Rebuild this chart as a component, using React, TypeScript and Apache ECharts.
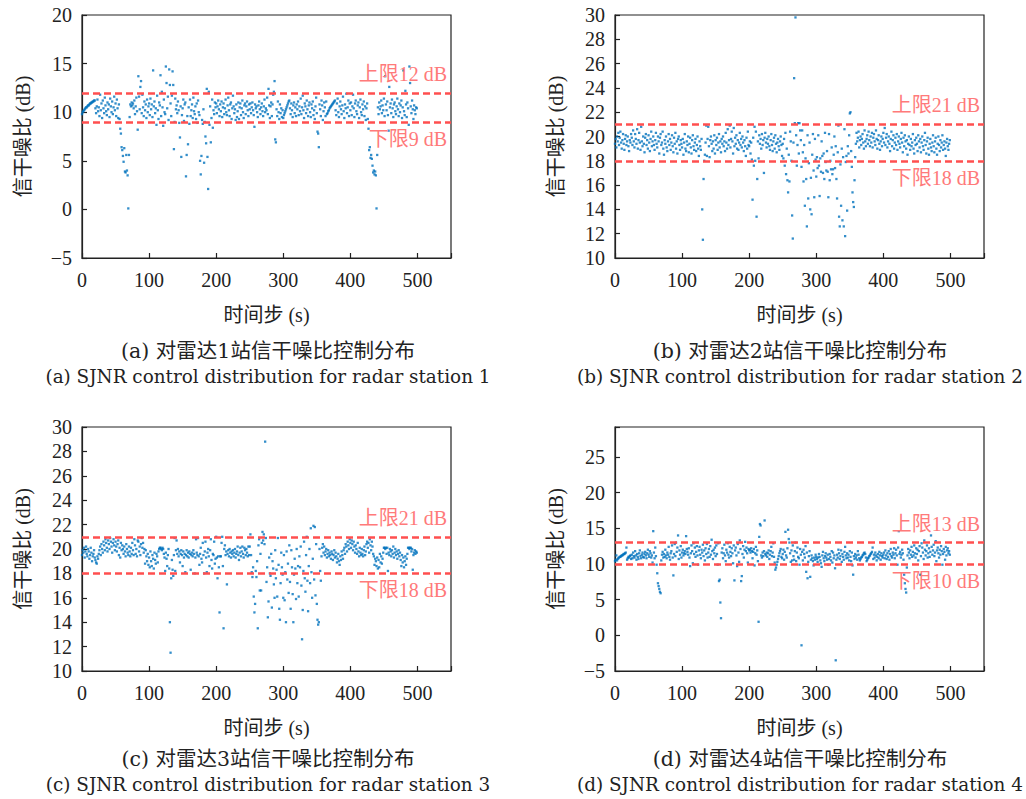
import React, { useEffect, useRef } from 'react';
import * as echarts from 'echarts';

// Station 1 SJNR (dB), one value per time step 0..499
const snrStation1 = [
  9.8,10.0,10.1,10.2,10.3,10.4,10.5,10.5,10.6,10.7,10.7,10.8,10.9,10.9,11.0,11.0,11.1,11.1,11.2,11.2,10.4,9.9,10.6,11.3,10.1,
  10.5,9.6,11.8,10.2,10.9,9.4,11.2,10.4,9.9,11.5,10.7,10.1,9.7,11.0,10.3,10.8,9.5,11.4,10.6,10.0,11.1,9.8,10.5,11.6,10.2,
  10.9,9.6,11.3,10.4,9.4,10.8,9.3,8.3,7.8,6.4,6.1,5.5,4.9,6.3,3.9,3.8,5.6,4.0,3.5,0.1,5.6,9.5,10.8,10.6,11.0,
  10.7,10.9,10.4,11.2,9.8,10.6,11.5,10.1,8.2,13.7,11.6,10.3,12.6,13.2,9.9,11.8,10.5,9.6,11.1,10.2,10.8,9.4,11.3,10.0,10.6,
  10.9,9.7,11.4,10.3,10.8,9.5,14.3,10.6,11.1,9.9,10.4,8.7,11.7,10.2,9.3,11.0,10.7,13.8,9.6,12.1,10.5,8.6,11.3,10.0,9.8,
  14.7,13.0,10.4,11.6,9.2,14.4,12.8,10.9,9.6,11.7,14.2,12.8,6.2,9.0,11.4,10.3,10.7,9.9,11.1,10.2,8.9,7.4,10.6,5.4,9.7,
  10.4,11.3,9.1,10.8,11.0,3.4,5.6,9.6,6.7,10.5,8.8,11.3,9.6,10.2,10.8,9.4,11.5,10.1,9.8,10.6,9.3,10.9,8.9,11.2,10.0,
  9.7,5.0,3.6,5.5,9.2,8.8,10.3,4.8,9.0,7.5,6.8,12.4,5.4,2.1,12.1,8.7,10.6,6.9,9.4,11.3,8.4,10.2,9.8,11.0,10.5,
  10.9,9.9,10.6,11.2,10.3,9.6,10.8,10.1,11.1,9.5,10.5,10.9,9.8,10.4,11.3,10.0,9.7,10.7,11.5,10.2,9.6,10.8,11.0,9.3,10.4,
  11.7,10.6,9.9,10.3,9.2,10.8,9.5,10.1,11.0,9.3,10.5,10.9,9.7,10.4,11.2,10.0,9.4,10.7,10.9,9.8,10.6,11.1,10.2,9.6,10.8,
  10.3,10.9,9.9,10.5,11.0,10.2,9.7,8.5,10.8,10.4,10.6,10.0,9.5,10.7,11.1,10.3,9.8,10.5,10.9,10.1,9.6,10.6,11.3,10.0,10.4,
  10.2,11.5,9.8,12.4,10.7,9.4,10.6,11.0,9.6,10.8,11.8,12.1,13.2,7.2,6.9,10.3,9.6,11.1,10.0,9.3,10.8,9.9,10.4,9.5,10.2,
  9.4,9.7,9.9,10.1,10.3,10.5,10.7,10.9,11.1,11.2,10.4,9.8,10.9,10.2,9.5,10.7,11.0,9.9,10.5,9.6,10.8,10.3,11.1,9.7,10.6,
  10.1,11.4,9.8,10.5,11.7,10.2,9.4,10.9,10.6,9.9,11.2,10.3,9.6,10.7,11.0,10.0,9.5,10.8,10.4,11.1,9.7,10.2,9.3,10.6,11.5,
  9.9,8.0,7.8,6.4,10.8,10.3,9.6,11.2,10.7,9.2,10.1,11.0,10.5,9.6,11.1,9.8,9.9,10.1,10.2,10.4,10.5,10.6,10.7,10.8,10.9,
  11.0,11.1,11.2,10.2,9.7,10.9,11.4,10.0,9.5,10.6,11.1,10.3,9.8,10.7,11.6,10.1,9.4,10.8,10.4,11.9,9.9,10.5,11.2,9.6,10.9,
  10.2,11.0,9.7,10.6,11.8,10.4,9.5,10.9,11.2,10.1,9.8,10.7,11.0,9.4,10.5,11.3,10.0,9.7,10.8,10.3,11.1,9.6,10.6,9.2,10.4,
  10.9,9.3,8.3,6.1,6.4,5.3,5.6,5.2,4.5,3.8,4.0,3.6,3.9,3.5,0.1,5.6,10.5,9.8,11.0,10.3,10.6,11.2,9.9,10.7,10.2,
  11.4,9.6,13.7,10.8,10.2,11.1,9.7,8.1,12.6,10.5,10.9,9.9,11.3,10.4,9.5,10.8,11.0,10.1,9.8,10.6,11.4,10.3,9.6,10.9,10.0,
  10.7,11.2,9.4,10.5,14.3,10.1,9.7,12.2,10.8,9.5,11.0,10.4,8.7,14.7,13.0,10.6,9.9,11.2,10.3,9.3,10.7,10.2,9.8,10.5,10.4,
];

const snrStation2 = [
  19.4,19.8,19.1,20.0,19.6,20.3,19.3,19.9,20.4,19.5,19.0,19.7,20.2,19.4,18.9,19.8,20.1,19.3,19.6,20.0,19.2,18.8,19.7,19.5,20.2,
  19.9,19.3,20.5,19.6,19.1,20.2,19.8,19.4,20.6,19.0,19.7,20.3,19.5,18.9,20.8,19.6,19.2,20.0,19.4,18.7,19.9,20.2,19.3,19.7,19.0,
  20.1,19.5,18.8,19.8,20.4,19.2,19.6,20.0,19.3,18.9,19.7,20.3,19.4,19.1,20.0,19.6,18.6,19.9,20.2,19.3,19.5,20.4,19.0,18.5,19.7,
  19.4,20.0,19.1,18.8,19.6,20.2,19.3,19.8,18.9,19.5,20.1,19.2,18.7,19.9,19.4,20.3,19.0,19.6,18.6,19.8,20.0,19.3,18.9,19.7,19.4,
  19.1,19.8,18.5,19.5,20.2,19.0,18.8,19.6,19.3,20.0,18.7,19.4,19.9,19.1,18.6,19.7,20.1,19.2,18.9,19.5,19.8,18.8,19.3,20.0,19.0,
  18.4,19.6,19.2,18.9,19.8,14.0,11.5,16.5,18.0,18.5,19.5,20.9,18.4,19.8,20.8,19.2,18.3,19.7,20.0,19.4,18.8,19.6,19.0,20.1,18.6,
  19.7,19.3,19.9,18.9,19.5,20.2,19.1,19.6,18.7,19.8,19.4,20.0,19.2,19.6,18.8,20.3,19.5,19.0,20.6,19.3,19.7,20.9,19.1,19.8,20.4,
  19.6,18.6,20.7,19.2,19.9,19.4,20.1,19.0,19.7,18.9,19.5,20.3,19.3,19.8,19.1,20.0,19.5,18.8,19.7,19.2,18.4,19.9,19.0,20.4,19.3,
  19.2,19.6,18.6,19.5,18.1,14.8,19.9,17.6,20.8,18.0,20.4,13.4,16.5,19.6,18.2,20.1,19.4,19.8,19.0,20.2,19.3,19.7,17.0,19.9,20.3,
  19.5,19.1,19.8,19.4,20.0,19.2,18.9,19.7,20.2,19.3,18.8,19.6,19.9,19.0,20.1,19.4,18.7,19.5,19.8,19.2,18.9,19.6,20.0,19.3,18.4,
  19.4,18.2,19.8,17.6,20.3,16.9,19.0,16.4,15.4,18.5,16.3,20.4,19.6,18.0,13.5,11.6,19.5,24.8,21.1,29.8,20.1,17.6,19.3,21.1,18.6,
  21.1,20.5,19.7,17.5,20.5,18.7,16.3,19.3,14.3,18.2,16.5,12.6,20.1,14.9,17.8,19.5,14.0,16.6,13.6,18.5,20.2,17.2,15.0,19.8,18.1,
  16.7,18.3,17.4,20.1,17.6,15.1,18.2,17.1,19.6,18.4,17.0,18.6,16.5,20.3,17.9,17.2,18.8,17.1,15.0,20.2,16.4,18.0,17.3,19.1,16.9,
  17.3,18.5,20.0,17.4,19.2,16.5,14.9,18.7,20.9,13.4,12.6,17.7,14.3,19.0,13.1,18.3,12.6,20.6,11.8,17.9,18.4,13.9,19.2,18.6,20.1,
  21.9,22.0,18.8,17.5,15.4,14.6,14.2,16.4,18.3,19.4,20.3,19.6,19.9,20.4,19.1,19.7,20.0,19.3,19.8,20.2,19.5,19.0,20.5,19.6,19.2,
  19.8,20.1,19.4,20.4,19.7,19.2,20.0,19.5,20.3,19.1,19.9,20.2,19.6,19.3,20.5,19.8,19.0,19.7,20.1,19.4,18.9,19.6,20.0,19.2,19.8,
  20.3,19.5,20.7,19.3,19.9,20.2,19.1,19.6,20.0,19.4,18.8,19.8,20.4,19.2,19.7,20.1,19.0,19.5,19.9,19.3,20.2,18.9,19.6,20.0,19.4,
  19.1,19.8,20.3,19.5,18.7,19.9,19.2,20.1,19.6,19.0,19.7,18.5,19.4,20.0,19.3,18.9,19.8,19.2,19.5,20.2,19.0,18.6,19.7,19.3,19.9,
  19.4,18.8,20.1,19.6,19.1,19.8,18.7,19.5,20.0,19.2,18.9,19.7,20.3,19.3,18.6,19.6,19.9,19.0,18.5,19.4,19.8,19.1,18.8,19.5,20.1,
  19.2,18.7,19.6,19.9,19.0,18.5,19.4,20.0,19.3,18.8,19.7,19.1,19.5,20.1,18.9,19.3,19.6,19.0,18.4,19.5,19.8,19.2,18.9,19.4,19.7,
];

const snrStation3 = [
  19.5,19.9,19.7,20.1,19.3,19.8,20.2,19.6,19.4,20.0,19.8,19.2,19.5,20.1,19.7,19.0,19.4,19.6,19.9,19.3,19.1,18.9,18.8,19.4,19.2,
  19.6,19.9,20.2,19.5,20.4,20.0,19.7,20.6,20.3,19.9,20.8,20.5,20.1,19.8,20.7,20.4,20.0,20.9,20.6,20.2,19.7,20.5,20.8,20.3,19.9,
  20.6,20.2,19.8,20.4,20.7,19.5,20.1,19.3,20.5,19.9,20.3,20.0,19.6,20.2,19.8,19.4,20.4,20.0,19.7,19.5,20.2,19.8,19.4,20.1,19.6,
  20.5,19.9,19.5,20.8,20.3,19.6,20.0,19.4,20.7,20.6,19.8,20.2,19.5,20.4,20.9,20.1,20.5,19.7,20.0,18.8,19.9,19.4,19.0,19.6,18.7,
  19.3,18.5,19.8,19.0,18.6,19.5,19.2,18.4,19.7,19.1,18.8,19.6,19.4,18.9,19.8,20.0,20.1,20.1,20.0,19.9,20.1,20.0,19.6,19.3,18.2,
  19.7,19.2,18.6,19.5,20.0,18.4,14.0,11.5,17.6,19.1,18.3,17.8,19.5,20.9,18.2,19.9,20.7,19.6,20.0,19.4,19.8,18.9,19.6,19.9,19.5,
  18.6,19.8,19.3,19.6,18.1,19.5,19.9,19.4,19.7,19.3,19.8,19.6,18.3,19.5,19.7,19.4,19.9,19.6,18.0,19.3,20.8,19.7,19.5,20.9,19.4,
  18.7,19.6,20.1,19.2,18.9,20.5,19.5,18.0,19.8,20.6,19.3,18.1,19.7,20.0,19.4,18.6,19.9,20.8,19.1,18.4,19.6,19.5,20.6,18.8,19.2,
  21.0,19.3,17.6,19.4,18.5,14.8,19.4,19.4,20.5,21.0,18.6,13.5,20.0,20.3,19.5,19.8,17.1,19.6,19.9,19.4,20.0,19.7,19.3,19.8,19.6,
  19.9,19.4,19.7,20.0,19.3,19.6,19.8,20.2,19.5,19.1,19.7,20.1,19.4,19.8,20.2,19.6,19.3,20.1,19.9,19.5,20.0,19.7,19.4,20.2,19.5,
  20.2,21.2,19.5,18.1,17.7,18.5,16.1,14.8,15.5,18.2,17.7,19.0,13.5,20.3,20.8,16.6,19.6,16.6,20.5,21.4,20.7,21.2,20.4,28.8,20.9,
  17.3,18.5,14.4,15.7,19.3,18.0,17.8,19.6,15.2,19.0,18.4,17.1,16.0,19.9,17.6,18.3,16.1,20.9,18.7,15.1,14.2,17.2,19.7,18.5,17.9,
  16.0,19.5,15.8,18.1,14.0,19.8,17.5,18.8,16.4,20.3,17.3,15.1,19.9,18.5,16.3,14.0,17.9,19.2,18.4,15.9,20.0,17.2,18.6,16.1,19.4,
  18.5,20.2,17.0,12.6,15.0,18.2,20.6,17.6,16.5,19.5,21.0,17.4,14.9,18.6,20.0,17.2,21.7,18.1,16.0,19.2,21.9,17.5,21.8,16.2,20.4,
  15.5,14.2,13.8,14.0,20.0,18.2,17.4,19.4,20.1,20.4,19.7,20.2,19.5,19.8,20.0,19.3,19.6,19.9,19.4,19.7,19.5,19.2,19.8,19.6,19.1,
  19.5,19.9,19.3,19.7,19.4,18.9,19.2,19.6,19.0,18.7,19.4,19.1,19.8,19.5,19.2,19.9,20.1,19.6,20.4,20.2,19.8,20.6,20.3,20.0,20.8,
  20.5,20.1,20.7,20.4,19.9,20.6,20.2,19.7,20.3,20.0,19.6,20.5,19.8,19.4,20.1,19.7,19.5,20.0,19.6,19.4,19.9,20.2,19.5,19.8,20.4,
  20.6,20.1,20.5,19.7,20.8,20.3,19.9,20.6,20.2,19.6,19.4,18.7,19.2,19.0,18.6,19.3,18.4,19.1,18.5,19.6,18.9,19.4,18.8,19.2,19.7,
  20.1,20.1,20.0,20.1,19.6,20.1,18.2,19.7,19.5,20.0,19.8,19.4,19.9,19.6,20.2,19.3,19.7,20.0,19.5,19.8,19.2,19.6,19.9,19.4,19.7,
  19.1,18.6,19.5,18.9,19.3,18.5,19.0,19.4,18.7,19.2,19.6,20.1,20.1,20.0,20.1,20.1,19.8,20.0,18.3,19.5,19.7,19.9,19.6,19.8,19.7,
];

const snrStation4 = [
  10.4,10.6,11.2,10.5,10.7,10.8,10.9,11.0,11.0,11.1,11.2,11.2,11.3,11.4,11.4,11.5,11.6,12.3,10.6,10.8,11.0,10.9,11.1,11.2,10.7,
  11.3,10.8,11.6,11.1,10.9,11.8,11.2,10.6,11.4,11.0,10.7,11.5,11.9,11.1,10.8,11.3,11.6,11.0,10.9,11.4,11.7,11.2,10.8,11.5,12.0,
  11.3,11.0,11.8,11.5,10.9,11.2,10.2,14.6,11.6,10.8,12.3,11.1,9.9,8.7,7.3,6.9,6.5,6.1,5.9,10.5,11.3,11.7,10.9,11.4,11.0,
  12.0,11.2,10.8,11.6,11.3,12.4,11.0,10.6,11.5,11.8,12.6,10.9,8.4,11.4,12.8,11.1,13.0,11.7,12.3,14.0,10.7,11.9,11.3,12.5,10.9,
  11.6,12.0,11.2,11.5,11.8,11.4,13.9,12.1,11.7,11.3,12.2,10.9,9.7,11.5,12.6,11.8,10.1,12.9,11.4,12.3,11.0,11.7,12.5,11.2,9.9,
  11.9,12.4,11.3,10.8,12.0,11.6,12.7,11.1,11.9,10.5,12.2,11.4,12.8,10.9,11.6,12.1,11.0,12.5,11.3,13.4,11.8,10.7,12.0,11.5,12.3,
  11.1,12.6,11.4,9.9,12.9,7.6,7.8,4.6,2.4,11.6,12.2,10.8,11.5,12.7,11.2,10.4,12.0,11.6,12.9,11.3,10.9,12.4,11.7,11.1,12.2,
  11.5,10.1,12.6,7.7,11.9,12.3,11.2,9.7,12.8,11.6,10.3,13.3,12.1,7.6,8.3,11.4,12.5,10.9,12.0,13.1,11.8,12.3,11.5,10.2,12.1,
  11.9,12.0,11.6,12.2,11.8,10.8,11.7,12.1,9.8,11.5,12.4,11.3,11.9,10.4,1.9,13.8,15.6,15.4,11.2,10.9,11.6,11.1,11.8,16.1,11.4,
  11.2,11.6,11.0,11.5,11.9,10.7,11.3,11.8,12.4,11.1,11.6,12.9,11.0,10.2,9.2,9.5,9.9,10.3,10.7,11.1,11.5,11.8,12.1,11.0,10.8,
  11.4,12.0,10.6,11.7,14.5,11.2,10.9,12.2,14.8,13.5,13.0,11.5,10.3,11.9,10.5,12.6,11.1,10.6,11.8,13.0,10.4,11.6,12.3,11.0,10.8,
  9.9,12.1,11.3,-1.4,11.7,10.5,12.0,11.4,10.9,12.5,8.9,11.6,8.0,10.3,11.1,11.8,8.2,10.6,11.2,10.8,10.4,9.8,10.9,10.6,11.3,
  11.0,10.7,10.3,10.9,11.4,11.0,10.5,10.1,9.6,11.2,11.7,10.8,10.4,11.1,11.5,10.9,10.6,11.3,9.9,10.7,11.4,11.0,10.5,11.8,10.2,
  11.6,10.8,11.2,9.4,-3.5,10.6,11.3,10.9,12.0,11.5,10.7,11.1,11.9,10.3,11.4,11.0,10.6,11.7,12.4,11.2,10.8,11.5,10.9,11.3,10.5,
  11.8,11.0,10.4,11.6,9.8,8.5,11.1,10.7,11.4,10.9,11.2,10.6,11.8,11.3,10.8,10.5,10.7,10.9,11.0,11.2,11.3,11.5,11.6,11.4,10.9,
  10.4,10.6,10.8,10.9,11.1,11.2,11.4,11.5,11.7,12.3,10.7,11.3,10.9,11.6,11.2,10.5,11.0,11.4,10.8,11.7,11.2,10.6,11.5,11.1,10.9,
  11.3,11.6,10.8,11.9,11.2,10.7,11.5,11.0,11.8,10.6,11.4,12.1,11.1,10.9,11.6,11.3,12.2,10.8,11.5,12.0,11.2,9.9,12.3,14.6,11.4,
  11.7,10.9,11.3,12.0,11.5,10.6,8.5,7.3,6.5,6.0,9.5,11.2,12.1,11.6,10.8,11.9,11.3,12.4,11.0,11.7,11.2,12.6,11.5,10.9,12.2,
  11.4,12.0,10.5,11.8,12.5,8.5,11.1,12.9,12.3,11.6,10.7,13.3,12.0,11.2,11.8,12.6,10.9,11.5,12.2,11.0,11.7,14.0,12.4,11.3,11.9,
  12.7,11.1,11.6,13.2,10.4,11.9,12.3,11.5,10.9,12.0,11.3,12.5,11.8,9.9,11.4,12.1,11.7,10.6,12.4,11.2,11.9,12.2,11.5,11.8,11.3,
];

const upperLimits = [12, 21, 21, 13];
const lowerLimits = [9, 18, 18, 10];
const yMins = [-5, 10, 10, -5];
const yMaxs = [20, 30, 30, 29.2];
const yIntervals = [5, 2, 2, 5];
const xTicks = [0, 100, 200, 300, 400, 500];
const captionsCn = [
  '(a) 对雷达1站信干噪比控制分布',
  '(b) 对雷达2站信干噪比控制分布',
  '(c) 对雷达3站信干噪比控制分布',
  '(d) 对雷达4站信干噪比控制分布',
];
const captionsEn = [
  '(a) SJNR control distribution for radar station 1',
  '(b) SJNR control distribution for radar station 2',
  '(c) SJNR control distribution for radar station 3',
  '(d) SJNR control distribution for radar station 4',
];
const xName = '时间步 (s)';
const yName = '信干噪比 (dB)';

const SERIF = '"Liberation Serif", "Noto Sans CJK SC", serif';
const CAPTION_FONT = '"DejaVu Serif", "Noto Sans CJK SC", serif';
const DOT = '#0072BD';
const LIMIT_LINE = '#ff4f4f';
const LIMIT_TEXT = '#ff7a7a';

const grids = [
  { left: 82, top: 15, width: 369, height: 243 },
  { left: 615, top: 15, width: 369, height: 243 },
  { left: 82, top: 427, width: 369, height: 244 },
  { left: 615, top: 427, width: 369, height: 244 },
];
const captionPos = [
  [268, 351],
  [800, 351],
  [268, 759],
  [800, 759],
];

const fmtNum = (v: number) => (v < 0 ? '\u2212' + Math.abs(v) : String(v));

export default function App() {
  const ref = useRef<HTMLDivElement>(null);
  useEffect(() => {
    if (!ref.current) return;
    const chart = echarts.init(ref.current, null, { renderer: 'svg' });
    const all = [snrStation1, snrStation2, snrStation3, snrStation4];

    const option: any = {
      animation: false,
      backgroundColor: '#fff',
      grid: grids.map((g) => ({
        ...g,
        show: true,
        borderColor: '#222',
        borderWidth: 1.2,
        backgroundColor: 'transparent',
        containLabel: false,
      })),
      xAxis: grids.map((_, i) => ({
        type: 'value',
        gridIndex: i,
        min: 0,
        max: 550,
        interval: 100,
        name: xName,
        nameLocation: 'middle',
        nameGap: 47,
        nameTextStyle: { fontFamily: SERIF, fontSize: 20, color: '#222' },
        axisLine: { show: true, onZero: false, lineStyle: { color: '#222', width: 1.2 } },
        axisTick: { show: true, inside: true, length: 5, lineStyle: { color: '#222', width: 1.2 } },
        splitLine: { show: false },
        axisLabel: {
          fontFamily: SERIF,
          fontSize: 20,
          color: '#222',
          margin: 12,
          formatter: (v: number) => (xTicks.indexOf(v) >= 0 ? fmtNum(v) : ''),
        },
      })),
      yAxis: grids.map((_, i) => ({
        type: 'value',
        gridIndex: i,
        min: yMins[i],
        max: yMaxs[i],
        interval: yIntervals[i],
        name: yName,
        nameLocation: 'middle',
        nameGap: 49,
        nameRotate: 90,
        nameTextStyle: { fontFamily: SERIF, fontSize: 20, color: '#222' },
        axisLine: { show: true, onZero: false, lineStyle: { color: '#222', width: 1.2 } },
        axisTick: { show: true, inside: true, length: 5, lineStyle: { color: '#222', width: 1.2 } },
        splitLine: { show: false },
        axisLabel: {
          fontFamily: SERIF,
          fontSize: 20,
          color: '#222',
          margin: 10,
          formatter: (v: number) => (Math.abs(v / yIntervals[i] - Math.round(v / yIntervals[i])) < 1e-6 ? fmtNum(v) : ''),
        },
      })),
      series: all.map((arr, i) => ({
        type: 'scatter',
        xAxisIndex: i,
        yAxisIndex: i,
        symbol: 'rect',
        symbolSize: 2.3,
        itemStyle: { color: DOT },
        data: arr.map((v, t) => [t, v]),
        markLine: {
          silent: true,
          symbol: 'none',
          lineStyle: { color: LIMIT_LINE, type: [7, 4], width: 2.5 },
          data: [
            {
              yAxis: upperLimits[i],
              label: {
                show: true,
                position: 'insideEndTop',
                formatter: '上限' + upperLimits[i] + ' dB',
                color: LIMIT_TEXT,
                fontFamily: SERIF,
                fontSize: 20,
                distance: [4, 9],
              },
            },
            {
              yAxis: lowerLimits[i],
              label: {
                show: true,
                position: 'insideEndBottom',
                formatter: '下限' + lowerLimits[i] + ' dB',
                color: LIMIT_TEXT,
                fontFamily: SERIF,
                fontSize: 20,
                distance: [4, 7],
              },
            },
          ],
        },
      })),
      graphic: captionPos.flatMap((p, i) => [
        {
          type: 'text',
          x: p[0],
          y: p[1],
          style: {
            text: captionsCn[i],
            fill: '#222',
            font: '20.5px ' + CAPTION_FONT,
            textAlign: 'center',
            textVerticalAlign: 'middle',
          },
        },
        {
          type: 'text',
          x: p[0],
          y: p[1] + 25,
          style: {
            text: captionsEn[i],
            fill: '#222',
            font: '18.4px ' + CAPTION_FONT,
            textAlign: 'center',
            textVerticalAlign: 'middle',
          },
        },
      ]),
    };
    chart.setOption(option);
    return () => chart.dispose();
  }, []);
  return (
    <div
      ref={ref}
      style={{ position: 'absolute', left: 0, top: 0, width: 1026, height: 799, background: '#fff' }}
    />
  );
}
